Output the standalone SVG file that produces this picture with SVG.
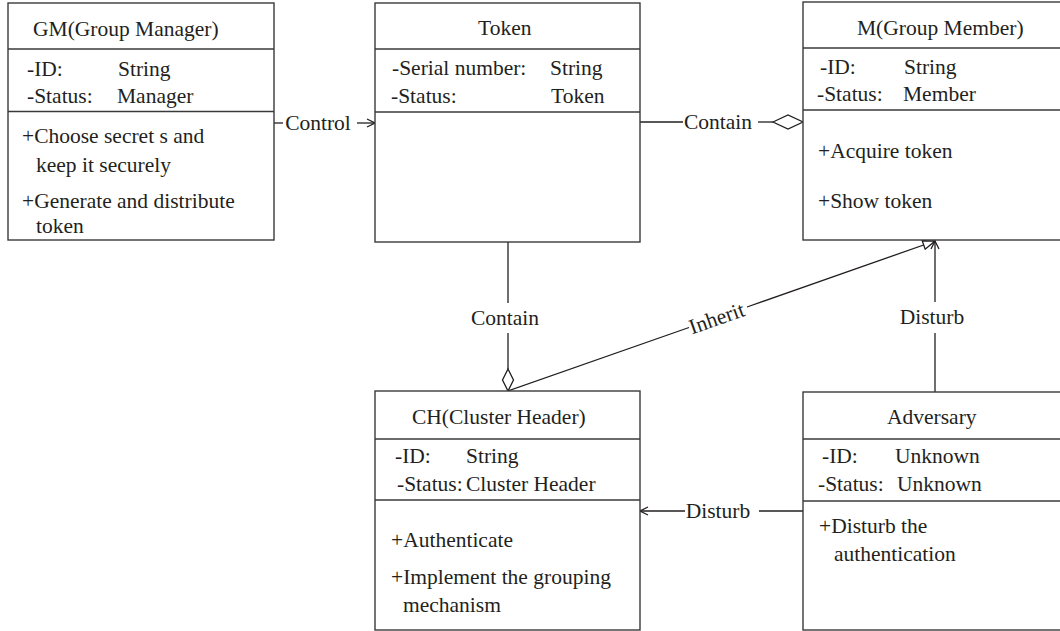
<svg xmlns="http://www.w3.org/2000/svg" width="1060" height="631" viewBox="0 0 1060 631">
<defs>
<style>
.box{fill:#fff;stroke:#3a3a3a;stroke-width:1.4}
.sep{stroke:#3a3a3a;stroke-width:1.4}
.t{font-family:'Liberation Serif','DejaVu Serif',serif;font-size:21.5px;fill:#231f20}
.c{fill:none;stroke:#231f20;stroke-width:1.3}
.lbl{font-family:'Liberation Serif','DejaVu Serif',serif;font-size:21.5px;fill:#231f20;text-anchor:middle}
</style>
<marker id="open" viewBox="0 0 10 10" refX="10" refY="5" markerWidth="10" markerHeight="10" markerUnits="userSpaceOnUse" orient="auto">
<path d="M2,1 L10,5 L2,9" fill="none" stroke="#231f20" stroke-width="1.3"/>
</marker>
<marker id="tri" viewBox="0 0 14 12" refX="13" refY="6" markerWidth="14" markerHeight="12" markerUnits="userSpaceOnUse" orient="auto">
<path d="M1,1.5 L13,6 L1,10.5 Z" fill="#fff" stroke="#231f20" stroke-width="1.3"/>
</marker>
</defs>
<rect width="1060" height="631" fill="#fff"/>

<g id="connectors" font-family="Liberation Serif, serif">
<line class="c" x1="274" y1="123" x2="283" y2="123"/>
<text class="lbl" x="318" y="130">Control</text>
<line class="c" x1="357" y1="123" x2="375" y2="123" marker-end="url(#open)"/>
<line class="c" x1="640" y1="122" x2="683" y2="122"/>
<text class="lbl" x="718" y="129">Contain</text>
<line class="c" x1="758" y1="122" x2="773" y2="122"/>
<path class="c" d="M773,122 L788,115 L803,122 L788,129 Z" fill="#fff"/>
<line class="c" x1="508" y1="242" x2="508" y2="303"/>
<text class="lbl" x="505" y="325">Contain</text>
<line class="c" x1="508" y1="333" x2="508" y2="369"/>
<path class="c" d="M508,369 L513.5,380 L508,391 L502.5,380 Z" fill="#fff"/>
<line class="c" x1="508" y1="391" x2="689" y2="327.5"/>
<text class="lbl" transform="translate(719,325) rotate(-19.4)">Inherit</text>
<line class="c" x1="747" y1="307" x2="935" y2="241" marker-end="url(#tri)"/>
<line class="c" x1="935" y1="392" x2="935" y2="333"/>
<text class="lbl" x="932" y="324">Disturb</text>
<line class="c" x1="935" y1="302" x2="935" y2="241" marker-end="url(#open)"/>
<line class="c" x1="803" y1="511" x2="759" y2="511"/>
<text class="lbl" x="718" y="518">Disturb</text>
<line class="c" x1="685" y1="511" x2="640" y2="511" marker-end="url(#open)"/>
</g>

<g id="gm" font-family="Liberation Serif, serif">
<rect class="box" x="8" y="3" width="266" height="237"/>
<line class="sep" x1="8" y1="49" x2="274" y2="49"/>
<line class="sep" x1="8" y1="111.5" x2="274" y2="111.5"/>
<text class="t" x="33" y="36">GM(Group Manager)</text>
<text class="t" x="27" y="76">-ID:</text>
<text class="t" x="118" y="76">String</text>
<text class="t" x="27" y="103">-Status:</text>
<text class="t" x="117" y="103">Manager</text>
<text class="t" x="22" y="143">+Choose secret s and</text>
<text class="t" x="36" y="172">keep it securely</text>
<text class="t" x="22" y="208">+Generate and distribute</text>
<text class="t" x="36" y="233">token</text>
</g>

<g id="token" font-family="Liberation Serif, serif">
<rect class="box" x="375" y="3" width="265" height="239"/>
<line class="sep" x1="375" y1="49" x2="640" y2="49"/>
<line class="sep" x1="375" y1="112" x2="640" y2="112"/>
<text class="t" x="478" y="35">Token</text>
<text class="t" x="392" y="75">-Serial number:</text>
<text class="t" x="550" y="75">String</text>
<text class="t" x="391" y="103">-Status:</text>
<text class="t" x="551" y="103">Token</text>
</g>

<g id="member" font-family="Liberation Serif, serif">
<rect class="box" x="803" y="2" width="265" height="238"/>
<line class="sep" x1="803" y1="48" x2="1068" y2="48"/>
<line class="sep" x1="803" y1="110" x2="1068" y2="110"/>
<text class="t" x="857" y="35">M(Group Member)</text>
<text class="t" x="820" y="74">-ID:</text>
<text class="t" x="904" y="74">String</text>
<text class="t" x="817" y="101">-Status:</text>
<text class="t" x="903" y="101">Member</text>
<text class="t" x="818" y="158">+Acquire token</text>
<text class="t" x="818" y="208">+Show token</text>
</g>

<g id="ch" font-family="Liberation Serif, serif">
<rect class="box" x="375" y="391" width="265" height="239"/>
<line class="sep" x1="375" y1="439" x2="640" y2="439"/>
<line class="sep" x1="375" y1="500" x2="640" y2="500"/>
<text class="t" x="412" y="424">CH(Cluster Header)</text>
<text class="t" x="395" y="463">-ID:</text>
<text class="t" x="466" y="463">String</text>
<text class="t" x="397" y="491">-Status:</text>
<text class="t" x="466" y="491">Cluster Header</text>
<text class="t" x="391" y="547">+Authenticate</text>
<text class="t" x="391" y="584">+Implement the grouping</text>
<text class="t" x="403" y="612">mechanism</text>
</g>

<g id="adversary" font-family="Liberation Serif, serif">
<rect class="box" x="803" y="392" width="265" height="238"/>
<line class="sep" x1="803" y1="439" x2="1068" y2="439"/>
<line class="sep" x1="803" y1="501" x2="1068" y2="501"/>
<text class="t" x="887" y="424">Adversary</text>
<text class="t" x="822" y="463">-ID:</text>
<text class="t" x="895" y="463">Unknown</text>
<text class="t" x="818" y="491">-Status:</text>
<text class="t" x="897" y="491">Unknown</text>
<text class="t" x="819" y="533">+Disturb the</text>
<text class="t" x="834" y="561">authentication</text>
</g>
</svg>
